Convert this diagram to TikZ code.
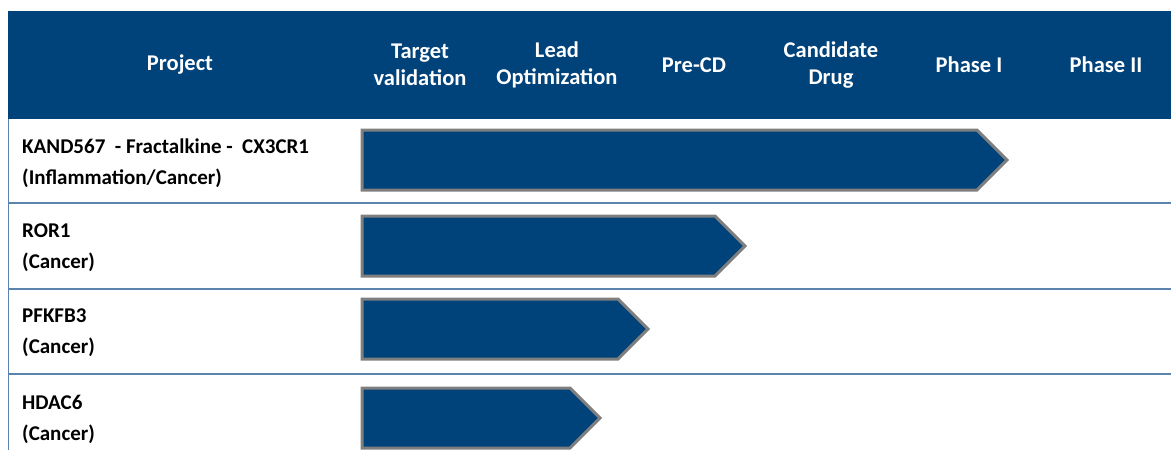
\documentclass[tikz,border=0pt]{standalone}
\usepackage{fontspec}
\setmainfont{Carlito}
\usepackage{tikz}
\usetikzlibrary{positioning}
\usetikzlibrary{calc}

\definecolor{headblue}{HTML}{00427A}
\definecolor{rulblue}{HTML}{5A84AE}
\definecolor{bargray}{HTML}{7F7F7F}

\tikzset{
  headtext/.style={text=white,font=\fontsize{22.5}{27}\selectfont\bfseries,align=center,inner sep=0pt},
  projtext/.style={text=black,font=\fontsize{21}{31}\selectfont\bfseries,align=left,anchor=west,inner sep=0pt},
  rowline/.style={rulblue,line width=2pt},
  stagebar/.style={fill=headblue,draw=bargray,line width=3pt,line join=miter}
}

\begin{document}
\begin{tikzpicture}[x=1pt,y=-1pt]
\useasboundingbox (0,0) rectangle (1171,450);
% header band
\fill[headblue] (8,11) rectangle (1171,119);
\node [headtext] (project) at (180,65) {Project};
\node [headtext] (target) at (420,65) {Target\\validation};
\node [headtext] (lead) at (557,65) {Lead\\Optimization};
\node [headtext] (precd) at (694,65) {Pre-CD};
\node [headtext] (cand) at (831,65) {Candidate\\Drug};
\node [headtext] (phaseI) at (969,65) {Phase I};
\node [headtext] (phaseII) at (1106,65) {Phase II};
% table rules
\draw [rulblue,line width=1pt] (8,119) -- (8,450);
\foreach \y in {203,288.5,373.5}
  \draw [rowline] (8,\y) -- (1171,\y);
% projects
\node [projtext] (kand) at (22,163) {KAND567\ \ - Fractalkine -\ \ CX3CR1\\(Inflammation/Cancer)};
\node [projtext] (ror) at (22,247.5) {ROR1\\(Cancer)};
\node [projtext] (pfk) at (22,332.5) {PFKFB3\\(Cancer)};
\node [projtext] (hdac) at (22,419.5) {HDAC6\\(Cancer)};
% progress bars
\foreach \tip/\yc in {1007/160,745/246,648/329,600/418}
  \draw [stagebar] (362,\yc-30) -- (\tip-30,\yc-30) -- (\tip,\yc)
    -- (\tip-30,\yc+30) -- (362,\yc+30) -- cycle;
\end{tikzpicture}
\end{document}
